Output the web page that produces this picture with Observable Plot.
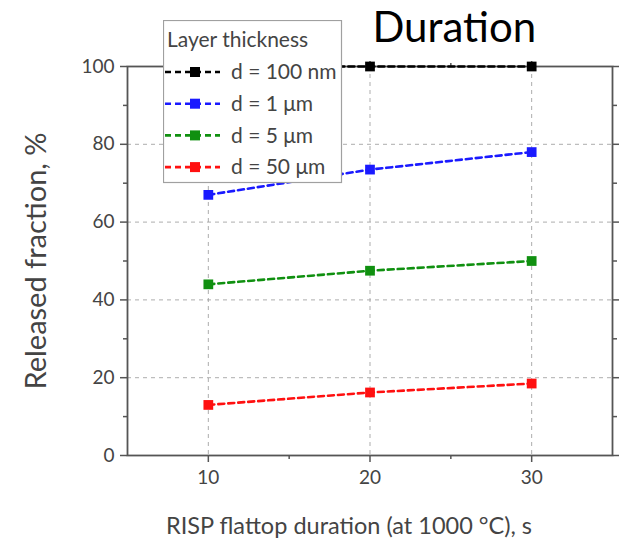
<!DOCTYPE html>
<html><head><meta charset="utf-8">
<script src="https://cdn.jsdelivr.net/npm/d3@7"></script>
<script src="https://cdn.jsdelivr.net/npm/@observablehq/plot@0.6"></script>
<style>
body{margin:0;background:#fff;}
#wrap{position:relative;width:622px;height:543px;font-family:Lato,sans-serif;}
#legend{position:absolute;left:163px;top:20px;}
</style></head><body><div id="wrap"></div>
<script>
const durations = [10, 20, 30];
const series = ["d = 100 nm", "d = 1 μm", "d = 5 μm", "d = 50 μm"];
const colors = ["#000000", "#1a1aff", "#109010", "#ff1010"];
const values = [
  [100, 100, 100],
  [67, 73.5, 78],
  [44, 47.5, 50],
  [13, 16.2, 18.5]
];
const xTicks = [10, 20, 30];
const xMinor = [15, 25];
const yTicks = [0, 20, 40, 60, 80, 100];
const yMinor = [10, 30, 50, 70, 90];
const title = "Duration";
const legendTitle = "Layer thickness";
const xLabel = "RISP flattop duration (at 1000 °C), s";
const yLabel = "Released fraction, %";

const data = [];
series.forEach((s, i) => durations.forEach((d, j) => data.push({series: s, x: d, y: values[i][j]})));

const axisColor = "#555";
const textColor = "#444";

const chart = Plot.plot({
  width: 622, height: 543,
  marginLeft: 127, marginRight: 10, marginTop: 66, marginBottom: 88,
  style: {fontFamily: "Lato, sans-serif", background: "#fff", overflow: "visible"},
  x: {domain: [5, 35]},
  y: {domain: [0, 100]},
  color: {domain: series, range: colors},
  marks: [
    Plot.gridX(xTicks, {stroke: "#999", strokeOpacity: 0.8, strokeDasharray: "4,4"}),
    Plot.gridY([20, 40, 60, 80], {stroke: "#999", strokeOpacity: 0.8, strokeDasharray: "4,4"}),
    Plot.frame({stroke: axisColor, strokeWidth: 1.8}),
    Plot.axisX({ticks: xTicks, tickSize: 7, tickPadding: 8, fontSize: 19, color: textColor, stroke: axisColor, strokeWidth: 1.5, label: null}),
    Plot.axisX({ticks: xMinor, tickSize: 4, text: null, stroke: axisColor, strokeWidth: 1.5, label: null}),
    Plot.axisX({anchor: "top", ticks: xTicks, tickSize: 6, text: null, stroke: axisColor, strokeWidth: 1.5, label: null}),
    Plot.axisX({anchor: "top", ticks: xMinor, tickSize: 4, text: null, stroke: axisColor, strokeWidth: 1.5, label: null}),
    Plot.axisY({ticks: yTicks, tickSize: 7, tickPadding: 6, fontSize: 19, color: textColor, stroke: axisColor, strokeWidth: 1.5, label: null}),
    Plot.axisY({ticks: yMinor, tickSize: 4, text: null, stroke: axisColor, strokeWidth: 1.5, label: null}),
    Plot.axisY({anchor: "right", ticks: yTicks, tickSize: 6, text: null, stroke: axisColor, strokeWidth: 1.5, label: null}),
    Plot.axisY({anchor: "right", ticks: yMinor, tickSize: 4, text: null, stroke: axisColor, strokeWidth: 1.5, label: null}),
    Plot.line(data, {x: "x", y: "y", z: "series", stroke: "series", strokeWidth: 2.6, strokeDasharray: "6,4"}),
    Plot.dot(data, {x: "x", y: "y", fill: "series", symbol: "square", r: 5.5}),
    Plot.text([xLabel], {frameAnchor: "bottom", dx: -21, dy: 71, lineAnchor: "middle", fontSize: 23.5, fill: textColor}),
    Plot.text([yLabel], {frameAnchor: "left", dx: -91, rotate: -90, textAnchor: "middle", lineAnchor: "middle", fontSize: 29, fill: textColor}),
    Plot.text([title], {frameAnchor: "top-left", dx: 245, dy: -38, textAnchor: "start", lineAnchor: "middle", fontSize: 42, fill: "#000"})
  ]
});
const wrap = document.getElementById("wrap");
wrap.appendChild(chart);

// Legend
const lg = d3.select(wrap).append("svg").attr("id", "legend")
  .attr("width", 180).attr("height", 164)
  .style("font-family", "Lato, sans-serif");
lg.append("rect").attr("x", 0.5).attr("y", 0.5).attr("width", 178).attr("height", 162)
  .attr("fill", "#fff").attr("stroke", "#a0a0a0").attr("stroke-width", 1.2);
lg.append("text").attr("x", 4).attr("y", 20).attr("dy", "0.35em")
  .attr("font-size", 21).attr("fill", textColor).text(legendTitle);
series.forEach((s, i) => {
  const y = 52 + i * 31.7;
  const g = lg.append("g").attr("transform", `translate(0,${y})`);
  g.append("line").attr("x1", 2).attr("x2", 57).attr("y1", 0).attr("y2", 0)
    .attr("stroke", colors[i]).attr("stroke-width", 2.6).attr("stroke-dasharray", "6,4");
  g.append("rect").attr("x", 27).attr("y", -5).attr("width", 10).attr("height", 10).attr("fill", colors[i]);
  g.append("text").attr("x", 68).attr("dy", "0.35em").attr("font-size", 21).attr("fill", textColor).text(s);
});
</script></body></html>
